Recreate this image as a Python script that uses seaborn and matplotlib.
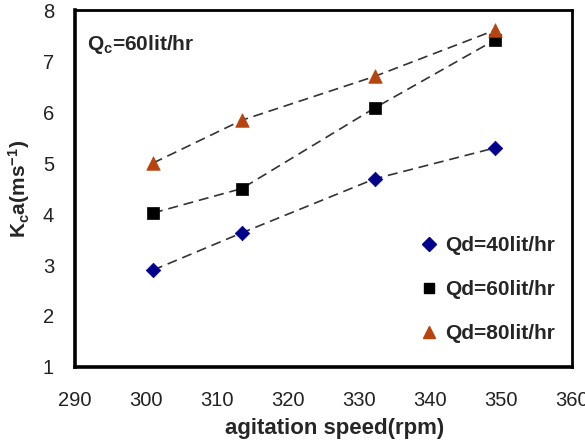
import numpy as np
import pandas as pd
import seaborn as sns
import matplotlib.pyplot as plt
from matplotlib.lines import Line2D

# data
speed = [301.0, 313.5, 332.2, 349.2]
kca_qd40 = [2.90, 3.63, 4.69, 5.30]
kca_qd60 = [4.02, 4.50, 6.08, 7.42]
kca_qd80 = [5.00, 5.84, 6.70, 7.61]
series_names = ["Qd=40lit/hr", "Qd=60lit/hr", "Qd=80lit/hr"]
x_ticks = [290, 300, 310, 320, 330, 340, 350, 360]
y_ticks = [1, 2, 3, 4, 5, 6, 7, 8]

df = pd.DataFrame({
    "speed": speed * 3,
    "kca": kca_qd40 + kca_qd60 + kca_qd80,
    "series": [n for n in series_names for _ in speed],
})

sns.set_style("white")
plt.rcParams['font.family'] = ['Liberation Sans', 'DejaVu Sans']
plt.rcParams['mathtext.fontset'] = 'custom'
plt.rcParams['mathtext.bf'] = 'Liberation Sans:bold'
plt.rcParams['mathtext.rm'] = 'Liberation Sans'

colors = {"Qd=40lit/hr": "#00008b", "Qd=60lit/hr": "#000000", "Qd=80lit/hr": "#b5440f"}
markers = {"Qd=40lit/hr": "D", "Qd=60lit/hr": "s", "Qd=80lit/hr": "^"}
sizes = {"Qd=40lit/hr": 55, "Qd=60lit/hr": 75, "Qd=80lit/hr": 95}

fig = plt.figure(figsize=(5.85, 4.4), dpi=100)
ax = fig.add_axes([0.128, 0.166, 0.850, 0.811])

for name in series_names:
    sub = df[df.series == name]
    sns.lineplot(data=sub, x="speed", y="kca", color="#333333", lw=1.2,
                 dashes=False, ax=ax, linestyle=(0, (6, 3.5)), legend=False)
    sns.scatterplot(data=sub, x="speed", y="kca", color=colors[name],
                    marker=markers[name], s=sizes[name], edgecolor=colors[name],
                    linewidth=0.5, ax=ax, zorder=3, legend=False)

ax.set_xlim(290, 360)
ax.set_ylim(1, 8)
ax.set_xticks(x_ticks)
ax.set_yticks(y_ticks)
ax.tick_params(direction='in', length=5, width=1, labelsize=14.5,
               colors='black', labelcolor='#222222')
ax.tick_params(axis='x', pad=17)
ax.tick_params(axis='y', pad=15)
for side in ['left', 'bottom']:
    ax.spines[side].set_linewidth(2.6)
for side in ['top', 'right']:
    ax.spines[side].set_linewidth(2.0)
for sp in ax.spines.values():
    sp.set_color('black')
    sp.set_visible(True)

ax.set_xlabel("agitation speed(rpm)", fontsize=16, fontweight='bold',
              labelpad=6, x=0.523)
ax.set_ylabel(r"$\mathbf{K_{c}a(ms^{-1})}$", fontsize=15, labelpad=8)

ax.text(0.024, 0.905, r"$\mathbf{Q_{c}}$" + "=60lit/hr", transform=ax.transAxes,
        fontsize=15, fontweight='bold', va='center', ha='left')

handles = [Line2D([], [], ls='none', marker=markers[n], color=colors[n],
                  markersize={"D": 7, "s": 7.5, "^": 9}[markers[n]]) for n in series_names]
ax.legend(handles, series_names, loc='lower right', bbox_to_anchor=(1.0, 0.02),
          frameon=False, prop={'weight': 'bold', 'size': 15}, labelspacing=1.2,
          handlelength=0.8, handletextpad=0.4, borderpad=0.3)

fig.savefig("out.png", dpi=100)
